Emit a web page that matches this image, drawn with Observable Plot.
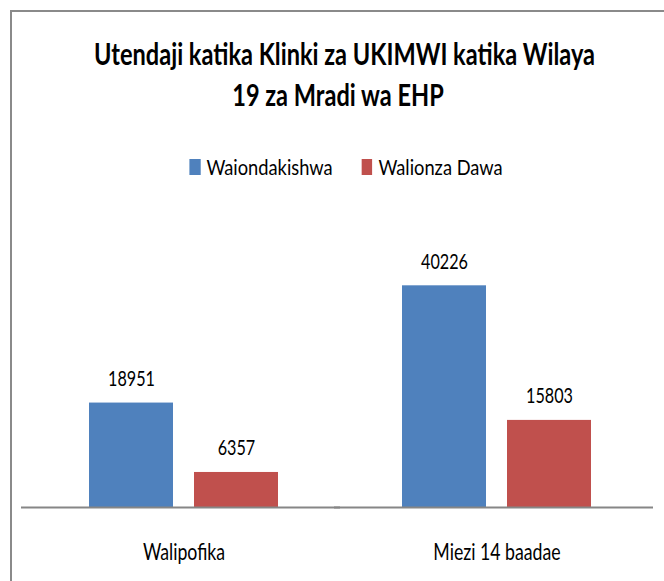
<!DOCTYPE html>
<html>
<head>
<meta charset="utf-8">
<script src="https://cdn.jsdelivr.net/npm/d3@7"></script>
<script src="https://cdn.jsdelivr.net/npm/@observablehq/plot@0.6"></script>
<style>
  html, body { margin: 0; padding: 0; background: #fff; overflow: hidden; }
  #page { position: relative; width: 664px; height: 581px; overflow: hidden; font-family: Lato, "Open Sans", sans-serif; }
  #frame { position: absolute; left: 10px; top: 10px; width: 720px; height: 720px; border: 2px solid #8a8a8a; box-sizing: border-box; }
  #title { position: absolute; left: 17px; width: 642px; top: 33px; text-align: center; font-weight: bold; font-size: 31px; line-height: 41px; color: #000; transform: scaleX(0.76); transform-origin: 321px 0; white-space: nowrap; }
  #legend { position: absolute; left: 0; width: 664px; top: 156px; display: flex; justify-content: center; align-items: baseline; font-size: 21px; line-height: 21px; color: #000; transform: translateX(14px) scaleX(0.87); transform-origin: 332px 0; white-space: nowrap; }
  #legend .sw { display: inline-block; width: 12.6px; height: 16px; margin-right: 7px; }
  #legend .item { display: inline-flex; align-items: baseline; }
  #legend .item + .item { margin-left: 33px; }
  #chart { position: absolute; left: 0; top: 200px; }
</style>
</head>
<body>
<div id="page">
  <div id="frame"></div>
  <div id="title"></div>
  <div id="legend"></div>
  <div id="chart"></div>
</div>
<script>
const titleLines = ["Utendaji katika Klinki za UKIMWI katika Wilaya", "19 za Mradi wa EHP"];
const categories = ["Walipofika", "Miezi 14 baadae"];
const series = ["Waiondakishwa", "Walionza Dawa"];
const waiondakishwa = [18951, 40226];
const walionzaDawa = [6357, 15803];
const colors = ["#4F81BD", "#C0504D"];

const data = categories.flatMap((c, i) => [
  {cat: c, series: series[0], value: waiondakishwa[i]},
  {cat: c, series: series[1], value: walionzaDawa[i]}
]);

// Title
const titleEl = document.getElementById("title");
titleLines.forEach(l => { const d = document.createElement("div"); d.textContent = l; titleEl.appendChild(d); });

// Legend
const legendEl = document.getElementById("legend");
series.forEach((s, i) => {
  const item = document.createElement("span"); item.className = "item";
  const sw = document.createElement("span"); sw.className = "sw"; sw.style.background = colors[i];
  const tx = document.createElement("span"); tx.textContent = s;
  item.appendChild(sw); item.appendChild(tx); legendEl.appendChild(item);
});

const chart = Plot.plot({
  width: 664,
  height: 381,
  marginLeft: 27,
  marginRight: 11,
  marginTop: 59,
  marginBottom: 74,
  style: {fontFamily: "Lato, 'Open Sans', sans-serif", fontSize: "23px", color: "#000", background: "transparent", overflow: "visible"},
  fx: {domain: categories, padding: 0, label: null, tickSize: 0, tickPadding: 52, axis: "bottom"},
  x: {domain: series, paddingInner: 0.2, paddingOuter: 0.59, axis: null},
  y: {domain: [0, 45000], axis: null},
  color: {domain: series, range: colors},
  marks: [
    Plot.barY(data, {fx: "cat", x: "series", y: "value", fill: "series"}),
    Plot.text(data, {fx: "cat", x: "series", y: "value", text: d => String(d.value), lineAnchor: "bottom", dy: -17, fontSize: 21, fill: "#000"}),
    Plot.ruleY([0], {stroke: "#868686", strokeWidth: 2, insetLeft: -6})
  ]
});

// Narrow the lettering horizontally, like the condensed look of the original
chart.querySelectorAll("text").forEach(t => {
  const x = t.getAttribute("x"), y = t.getAttribute("y");
  let tr = t.getAttribute("transform") || "";
  if (x != null || y != null) {
    tr += ` translate(${+x || 0},${+y || 0})`;
    t.removeAttribute("x"); t.removeAttribute("y");
  }
  t.setAttribute("transform", (tr + " scale(0.77,1)").trim());
});

document.getElementById("chart").appendChild(chart);
</script>
</body>
</html>
